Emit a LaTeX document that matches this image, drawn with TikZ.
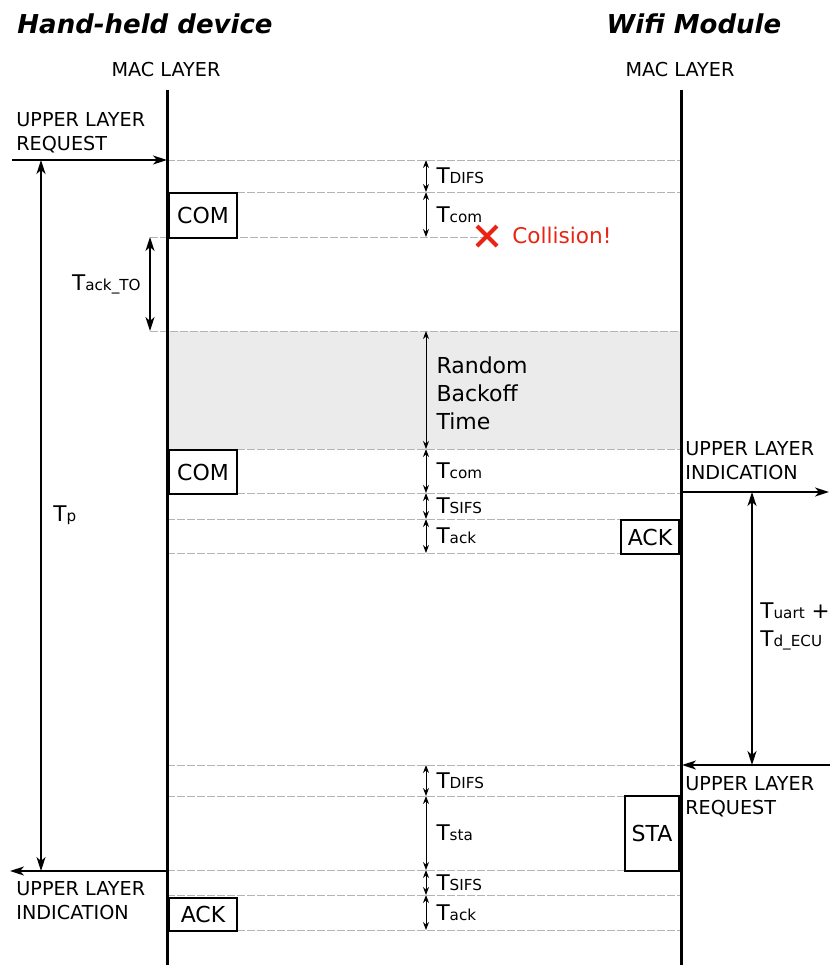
\documentclass[tikz,border=0pt]{standalone}
\usepackage{fontspec}
\setmainfont{DejaVu Sans}
\usetikzlibrary{arrows.meta,positioning,calc}
\definecolor{guidegray}{RGB}{180,180,180}
\definecolor{backoffgray}{RGB}{235,235,235}
\definecolor{alarm}{RGB}{232,36,20}
\newcommand{\subtxt}[1]{{\fontsize{7.6}{9}\selectfont #1}}
\tikzset{
  heading/.style={font=\fontsize{13}{15}\selectfont\bfseries\itshape, inner sep=0pt},
  layertxt/.style={font=\fontsize{9.6}{12}\selectfont, inner sep=0pt, align=left},
  life/.style={line width=1.5pt},
  msgbox/.style={draw, line width=1pt, fill=white, inner sep=0pt,
              font=\fontsize{11}{13}\selectfont},
  guide/.style={guidegray, line width=0.5pt, dash pattern=on 4pt off 1pt},
  sigarrow/.style={-{Stealth[length=7pt,width=4.5pt,inset=2pt]}, line width=0.8pt},
  period/.style={{Stealth[length=7pt,width=4.5pt,inset=2pt]}-{Stealth[length=7pt,width=4.5pt,inset=2pt]},
              line width=0.6pt},
  slot/.style={{Stealth[length=4pt,width=3pt]}-{Stealth[length=4pt,width=3pt]}, line width=0.5pt},
  tlabel/.style={font=\fontsize{10.8}{14}\selectfont, inner sep=0pt, anchor=west, align=left},
}

\begin{document}
\begin{tikzpicture}[x=0.5pt,y=-0.5pt]
    \useasboundingbox (0,0) rectangle (830,965);
    \coordinate (hit) at (487,236);
    % --- back-off window ---
    \fill[backoffgray] (168,331) rectangle (681,449);
    % --- time marks ---
    \foreach \y in {160,192,449,493,519,553,765,796,870,895,930}
      \draw[guide] (167,\y) -- (681,\y);
    \draw[guide] (150,237) -- (hit |- 0,237);
    \draw[guide] (150,331) -- (681,331);
    % --- frames on the medium ---
    \node[msgbox, minimum width=34pt, minimum height=22.5pt, anchor=north west] (com1) at (168,192) {COM};
    \node[msgbox, minimum width=34pt, minimum height=22pt, anchor=north west] (com2) at (168,449) {COM};
    \node[msgbox, minimum width=29pt, minimum height=17pt, anchor=north east] (ackwm) at (680,519) {ACK};
    \node[msgbox, minimum width=27pt, minimum height=37.5pt, anchor=north east] (sta) at (680,795) {STA};
    \node[msgbox, minimum width=34pt, minimum height=16.5pt, anchor=north west] (ackhh) at (168,897) {ACK};
    % --- lifelines ---
    \coordinate (hhtop) at (167,90);
    \coordinate (hhbot) at (167,965);
    \coordinate (wmtop) at (681,90);
    \coordinate (wmbot) at (681,965);
    \draw[life] (hhtop) -- (hhbot);
    \draw[life] (wmtop) -- (wmbot);
    \node[heading] (hhname) at (145,24) {Hand-held device};
    \node[heading] (wmname) at (694,24) {Wifi Module};
    \node[layertxt] (hhmac) at (166,70) {MAC LAYER};
    \node[layertxt] (wmmac) at (680,70) {MAC LAYER};
    % --- upper layer requests and indications ---
    \coordinate (hhin) at (12,160);
    \coordinate (hhreq) at (167,160);
    \draw[sigarrow] (hhin) -- (hhreq);
    \node[layertxt, anchor=base west] (hhreqtxt) at (16,150) {UPPER LAYER\\REQUEST};
    \coordinate (wmind) at (681,492);
    \coordinate (wmout) at (829,492);
    \draw[sigarrow] (wmind) -- (wmout);
    \node[layertxt, anchor=base west] (wmindtxt) at (685,479) {UPPER LAYER\\INDICATION};
    \coordinate (wmin) at (830,765);
    \coordinate (wmreq) at (682,765);
    \draw[sigarrow] (wmin) -- (wmreq);
    \node[layertxt, anchor=base west] (wmreqtxt) at (685,814) {UPPER LAYER\\REQUEST};
    \coordinate (hhind) at (167,871);
    \coordinate (hhout) at (10,871);
    \draw[sigarrow] (hhind) -- (hhout);
    \node[layertxt, anchor=base west] (hhindtxt) at (16,919) {UPPER LAYER\\INDICATION};
    % --- overall periods ---
    \coordinate (tpa) at (41,160);
    \coordinate (tpb) at (41,871);
    \draw[period] (tpa) -- (tpb);
    \node[tlabel] (tp) at (53,515) {T\subtxt{p}};
    \coordinate (toa) at (150,237);
    \coordinate (tob) at (150,331);
    \draw[period] (toa) -- (tob);
    \node[tlabel, anchor=east] (tackto) at (141,284) {T\subtxt{ack\_TO}};
    \coordinate (ua) at (752,492);
    \coordinate (ub) at (752,765);
    \draw[period] (ua) -- (ub);
    \node[tlabel] (tuart) at (760,626) {T\subtxt{uart} +\\T\subtxt{d\_ECU}};
    % --- slots on the medium ---
    \foreach \n/\y in {a/160,b/192,c/237,d/331,e/449,f/493,g/519,h/553,i/765,j/796,k/870,l/895,m/930}
      \coordinate (s\n) at (426,\y);
    \draw[slot] (sa) -- node[tlabel, right=5pt] (difs1) {T\subtxt{DIFS}} (sb);
    \draw[slot] (sb) -- node[tlabel, right=5pt] (tcom1) {T\subtxt{com}} (sc);
    \draw[slot] (sd) -- node[tlabel, right=5pt, yshift=-1.5pt, font=\fontsize{11}{14}\selectfont] (rbo) {Random\\Backoff\\Time} (se);
    \draw[slot] (se) -- node[tlabel, right=5pt] (tcom2) {T\subtxt{com}} (sf);
    \draw[slot] (sf) -- node[tlabel, right=5pt] (sifs1) {T\subtxt{SIFS}} (sg);
    \draw[slot] (sg) -- node[tlabel, right=5pt] (tack1) {T\subtxt{ack}} (sh);
    \draw[slot] (si) -- node[tlabel, right=5pt] (difs2) {T\subtxt{DIFS}} (sj);
    \draw[slot] (sj) -- node[tlabel, right=5pt] (tsta) {T\subtxt{sta}} (sk);
    \draw[slot] (sk) -- node[tlabel, right=5pt] (sifs2) {T\subtxt{SIFS}} (sl);
    \draw[slot] (sl) -- node[tlabel, right=5pt] (tack2) {T\subtxt{ack}} (sm);
    % --- collision ---
    \draw[alarm, line width=2pt] ($(hit)+(-10,-10)$) -- ($(hit)+(10,10)$)
      ($(hit)+(-10,10)$) -- ($(hit)+(10,-10)$);
    \node[tlabel, text=alarm, font=\fontsize{10.8}{14}\selectfont] (coll) at (512,235) {Collision!};
\end{tikzpicture}
\end{document}
